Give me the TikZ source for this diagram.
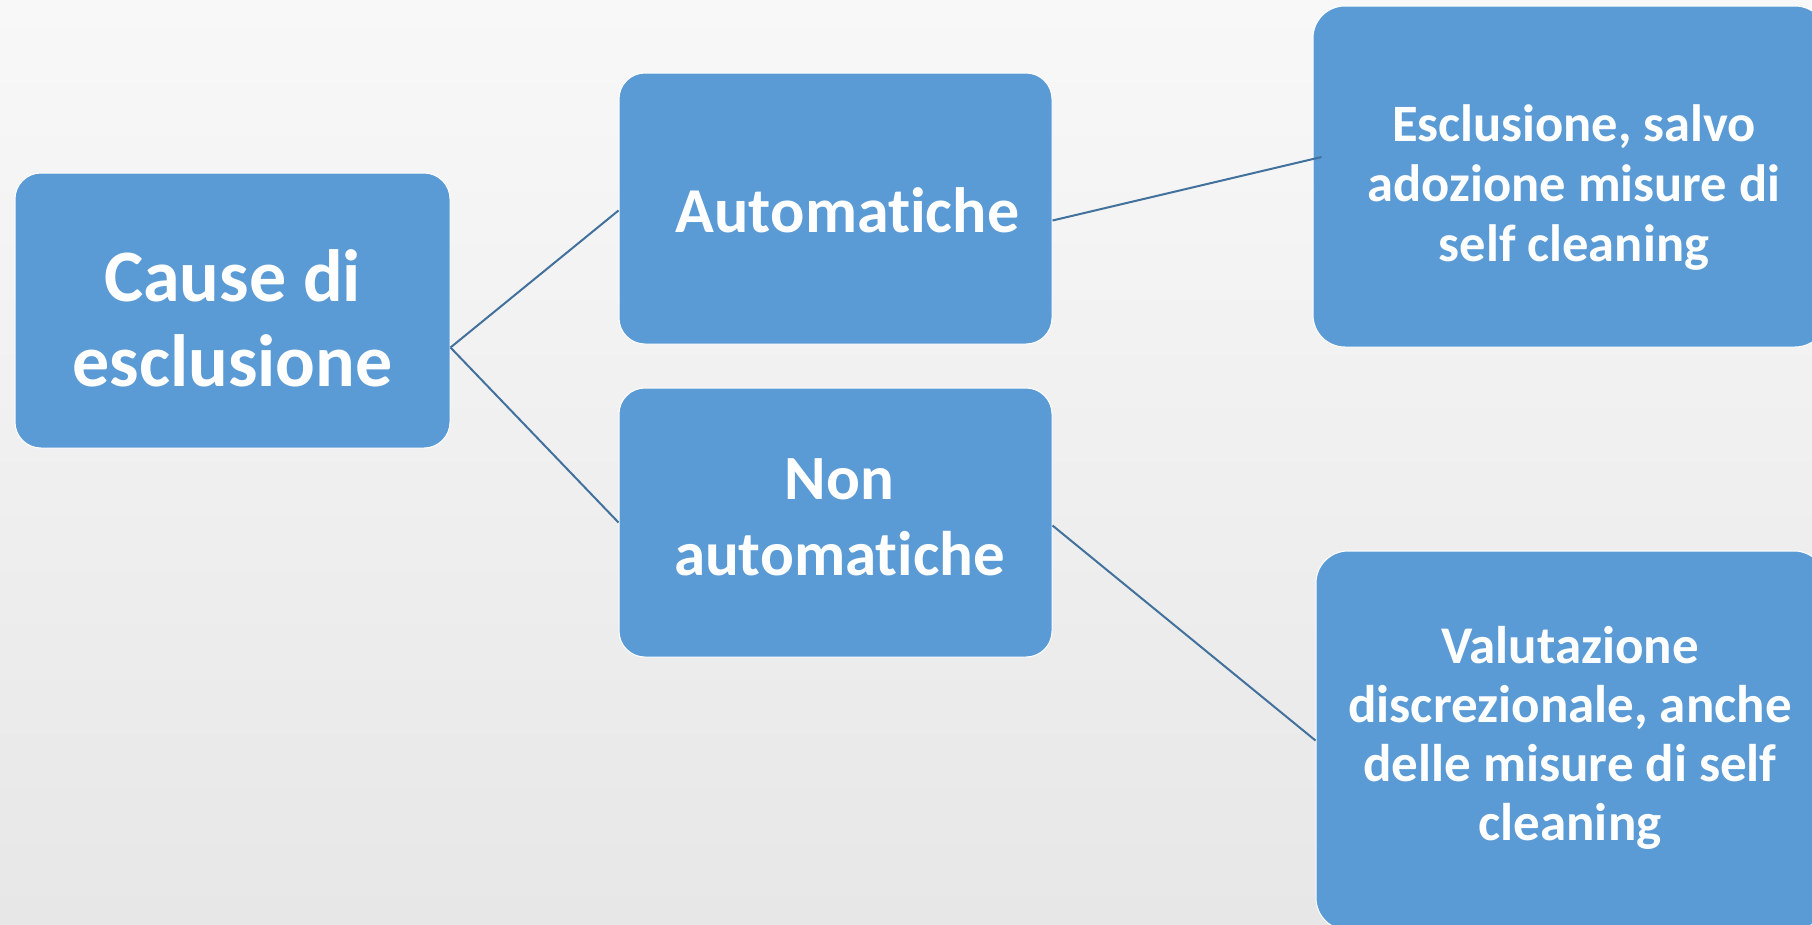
\documentclass[tikz,border=0pt]{standalone}
\usepackage{fontspec}
\setmainfont{Carlito}[Ligatures=CommonOff]
\definecolor{boxblue}{HTML}{5B9BD5}
\definecolor{linkblue}{HTML}{41719C}
\definecolor{bgtop}{HTML}{F8F8F8}
\definecolor{bgbot}{HTML}{E7E7E7}
\begin{document}
\begin{tikzpicture}[x=1pt,y=-1pt,
  box/.style={fill=boxblue, draw=white, line width=1pt, rounded corners=26pt, inner sep=0pt},
  txt/.style={text=white, align=center, inner sep=0pt},
  link/.style={draw=linkblue, line width=2pt}]
\useasboundingbox (0,0) rectangle (1812,924);
\clip (0,0) rectangle (1812,924);
\shade[top color=bgtop, bottom color=bgbot] (0,0) rectangle (1812,924);
\node[box, minimum width=435pt, minimum height=275pt] (cause) at (232.5,310.5) {};
\node[txt, font=\bfseries\fontsize{74}{85}\selectfont] (causetxt) at ([yshift=-8pt]cause.center) {Cause di\\esclusione};
\node[box, minimum width=433pt, minimum height=271pt] (auto) at (835.5,208.5) {};
\node[txt, font=\bfseries\fontsize{64}{76}\selectfont] (autotxt) at ([xshift=12pt,yshift=-2pt]auto.center) {Automatiche};
\node[box, minimum width=433pt, minimum height=269pt] (nonauto) at (835.5,522.5) {};
\node[txt, font=\bfseries\fontsize{63}{76}\selectfont] (nonautotxt) at ([xshift=4pt,yshift=5pt]nonauto.center) {Non\\automatiche};
\node[box, rounded corners=32pt, minimum width=514pt, minimum height=341pt] (escl) at (1570,176.5) {};
\node[txt, font=\bfseries\fontsize{52.5}{60}\selectfont] (escltxt) at ([xshift=4pt,yshift=-11pt]escl.center)
  {Esclusione, salvo\\adozione misure di\\self cleaning};
\node[box, rounded corners=32pt, minimum width=510pt, minimum height=379pt] (valut) at (1571,740.5) {};
\node[txt, font=\bfseries\fontsize{53}{59}\selectfont] (valuttxt) at ([xshift=-1pt,yshift=3pt]valut.center)
  {Valutazione\\discrezionale, anche\\delle misure di self\\cleaning};
\draw[link] ([yshift=-37pt]cause.east) -- ([yshift=-2pt]auto.west);
\draw[link] ([yshift=-37pt]cause.east) -- (nonauto.west);
\draw[link] ([yshift=-12pt]auto.east) -- ([yshift=19.5pt,xshift=9pt]escl.west);
\draw[link] ([yshift=-3pt]nonauto.east) -- (valut.west);
\end{tikzpicture}
\end{document}
